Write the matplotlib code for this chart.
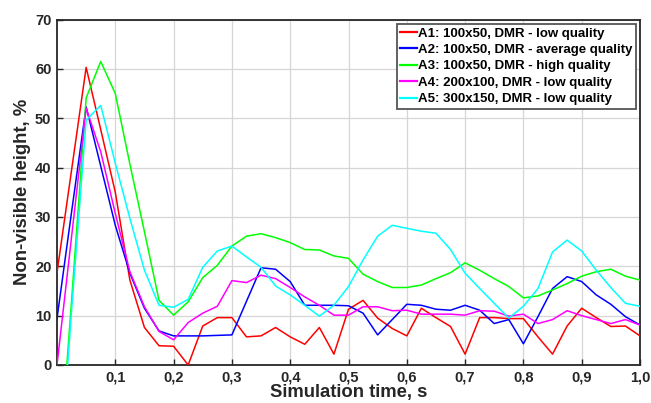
import numpy as np
import matplotlib
matplotlib.use("Agg")
import matplotlib.pyplot as plt

plt.rcParams['font.family'] = ['Liberation Sans', 'DejaVu Sans']

# Time axis (s)
time = [0.000, 0.025, 0.050, 0.075, 0.100, 0.125, 0.150, 0.175, 0.200, 0.225,
        0.250, 0.275, 0.300, 0.325, 0.350, 0.375, 0.400, 0.425, 0.450, 0.475,
        0.500, 0.525, 0.550, 0.575, 0.600, 0.625, 0.650, 0.675, 0.700, 0.725,
        0.750, 0.775, 0.800, 0.825, 0.850, 0.875, 0.900, 0.925, 0.950, 0.975,
        1.000]

a1 = [18.7, 39.5, 60.3, 47.7, 35.0, 17.2, 7.6, 3.9, 3.8, 0.0,
      7.9, 9.6, 9.6, 5.7, 5.9, 7.6, 5.7, 4.2, 7.6, 2.2,
      11.3, 13.1, 9.5, 7.4, 5.9, 11.5, 9.6, 7.8, 2.2, 9.6,
      9.6, 9.4, 9.4, 5.7, 2.2, 7.9, 11.5, 9.6, 7.8, 7.9,
      5.9]

a2 = [9.4, 31.0, 52.3, 40.3, 28.3, 18.6, 11.5, 6.9, 5.9, 5.9,
      5.9, 6.0, 6.1, 12.9, 19.7, 19.4, 16.9, 12.1, 12.1, 12.1,
      12.0, 10.5, 6.1, 9.2, 12.3, 12.1, 11.3, 11.1, 12.1, 11.1,
      8.4, 9.2, 4.3, 9.8, 15.5, 17.9, 16.9, 14.2, 12.3, 9.8,
      8.1]

a3 = [-27.0, 13.0, 54.1, 61.5, 55.0, 40.7, 27.0, 13.1, 10.1, 12.8,
      17.7, 20.2, 24.1, 26.1, 26.6, 25.8, 24.8, 23.4, 23.3, 22.1,
      21.6, 18.4, 16.9, 15.7, 15.7, 16.2, 17.5, 18.7, 20.7, 19.2,
      17.5, 15.9, 13.6, 14.0, 15.2, 16.5, 18.0, 18.9, 19.4, 18.0,
      17.2]

a4 = [0.0, 26.0, 52.0, 43.2, 30.7, 18.9, 11.8, 6.8, 5.1, 8.6,
      10.5, 11.9, 17.1, 16.7, 18.2, 17.5, 15.7, 13.8, 12.1, 10.1,
      10.1, 11.8, 11.8, 11.0, 11.1, 10.3, 10.3, 10.3, 10.1, 11.0,
      10.9, 9.9, 10.3, 8.4, 9.2, 11.0, 10.0, 9.2, 8.4, 9.2,
      8.1]

a5 = [-30.0, 11.0, 49.6, 52.6, 40.9, 29.7, 19.2, 12.1, 11.7, 13.3,
      19.8, 23.1, 24.1, 21.9, 19.8, 16.0, 14.2, 12.1, 9.9, 12.1,
      15.9, 21.3, 26.1, 28.3, 27.7, 27.1, 26.7, 23.4, 18.6, 15.5,
      12.5, 9.5, 11.9, 15.5, 22.9, 25.3, 23.1, 19.2, 15.7, 12.5,
      11.9]

labels = ["A1: 100x50, DMR - low quality",
          "A2: 100x50, DMR - average quality",
          "A3: 100x50, DMR - high quality",
          "A4: 200x100, DMR - low quality",
          "A5: 300x150, DMR - low quality"]
colors = ["#ff0000", "#0000ff", "#00ff00", "#ff00ff", "#00ffff"]

xticks = [0.1, 0.2, 0.3, 0.4, 0.5, 0.6, 0.7, 0.8, 0.9, 1.0]
xticklabels = ["0,1", "0,2", "0,3", "0,4", "0,5", "0,6", "0,7", "0,8", "0,9", "1,0"]
yticks = [0, 10, 20, 30, 40, 50, 60, 70]

W, H = 651, 403
fig = plt.figure(figsize=(W / 100, H / 100), dpi=100)
ax = fig.add_axes([57 / W, 1 - 365 / H, (640 - 57) / W, (365 - 19.5) / H])

for y, c, lab in zip([a1, a2, a3, a4, a5], colors, labels):
    ax.plot(time, y, color=c, lw=1.1, label=lab, zorder=3)

ax.set_xlim(0, 1.0)
ax.set_ylim(0, 70)
ax.set_xticks(xticks)
ax.set_xticklabels(xticklabels)
ax.set_yticks(yticks)
ax.grid(True, color="#d6d6d6", lw=0.9, zorder=0)
ax.set_axisbelow(True)

for s in ax.spines.values():
    s.set_color("#262626")
    s.set_linewidth(1.3)

ax.tick_params(direction="in", length=4.5, width=1.0, color="#262626",
               labelcolor="#262626", labelsize=10.5, pad=4)
for lab in ax.get_xticklabels() + ax.get_yticklabels():
    lab.set_fontweight("bold")

ax.set_xlabel("Simulation time, s", fontsize=13.3, fontweight="bold", color="#262626")
ax.set_ylabel("Non-visible height, %", fontsize=13.3, fontweight="bold", color="#262626")
ax.xaxis.set_label_coords(0.5, -(393 - 365) / 345.5)
ax.xaxis.label.set_va("center")
ax.yaxis.set_label_coords(-(57 - 22.5) / 583, 0.5)
ax.yaxis.label.set_va("center")

leg = ax.legend(loc="upper right", bbox_to_anchor=(1 - 4 / 583, 1 - 4.5 / 345.5),
                borderaxespad=0, prop={"weight": "bold", "size": 9.5},
                handlelength=1.25, handletextpad=0.1, labelspacing=0.32,
                borderpad=0.25, fancybox=False, framealpha=1.0)
leg.get_frame().set_edgecolor("#555555")
leg.get_frame().set_linewidth(1.3)
for line in leg.get_lines():
    line.set_linewidth(1.6)

fig.savefig("out.png", dpi=100)
